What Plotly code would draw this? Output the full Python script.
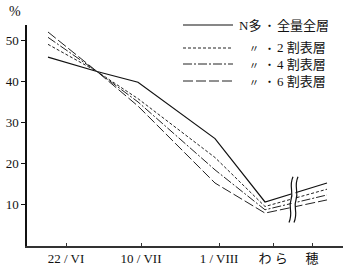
import plotly.graph_objects as go

# ---- data ----
tick_pos = [39, 114, 192, 246, 285]
tick_labels = ["22 / VI", "10 / VII", "1 / VIII", "わ ら", "穂"]
x_pts = [21, 70, 111, 188, 238, 300]
series_names = ["N多・全量全層", "〃・2 割表層", "〃・4 割表層", "〃・6 割表層"]
s_all = [45.9, 42.4, 39.8, 26.1, 10.7, 15.3]
s_2 = [49.0, 42.4, 35.8, 21.5, 9.6, 13.8]
s_4 = [50.7, 42.4, 35.0, 18.5, 8.8, 12.4]
s_6 = [52.0, 42.4, 34.0, 15.3, 8.0, 11.2]
y_ticks = [10, 20, 30, 40, 50]

series = [s_all, s_2, s_4, s_6]
dashes = ["solid", "3px,2px", "9px,2px,2px,2px", "10px,3px"]
widths = [1.2, 1.0, 1.0, 1.0]
colors = ["#111", "#222", "#222", "#222"]

fig = go.Figure()
for vals, d, w, c in zip(series, dashes, widths, colors):
    fig.add_trace(go.Scatter(x=x_pts, y=vals, mode="lines",
                             line=dict(color=c, width=w, dash=d),
                             showlegend=False, hoverinfo="skip"))

# break symbol (white gap + two wavy lines)
bx1, bx2 = 264, 269
ytop, ybot = 16.8, 5.7
fig.add_shape(type="rect", x0=bx1 + 0.5, x1=bx2 - 0.5, y0=ybot + 0.5, y1=ytop - 0.5,
              fillcolor="white", line=dict(width=0), layer="above")
for bx in (bx1, bx2):
    ym = (ytop + ybot) / 2
    path = (f"M {bx+2},{ytop} C {bx-2.5},{ytop-2.5} {bx+3},{ym+2} {bx},{ym} "
            f"C {bx-3},{ym-2} {bx+2.5},{ybot+2.5} {bx-2},{ybot}")
    fig.add_shape(type="path", path=path, line=dict(color="#111", width=1.2),
                  layer="above")

# manual legend
L, W, H = 27, 316, 221
def px(x):
    return (x - L) / W
def py(y):
    return (246 - y) / H

rows_y = [25, 48, 64, 81]
font_cjk = "Noto Sans CJK JP"
for i, (d, w, c) in enumerate(zip(dashes, widths, colors)):
    yy = py(rows_y[i])
    fig.add_shape(type="line", xref="paper", yref="paper",
                  x0=px(183), x1=px(233), y0=yy, y1=yy,
                  line=dict(color=c, width=w, dash=d))
    name = series_names[i]
    head, tail = name.split("・")
    if head == "〃":
        fig.add_annotation(xref="paper", yref="paper", x=px(254), y=yy, text="〃",
                           showarrow=False, xanchor="center", yanchor="middle",
                           font=dict(family=font_cjk, size=10, color="#111"))
    else:
        fig.add_annotation(xref="paper", yref="paper", x=px(237), y=yy, text=head,
                           showarrow=False, xanchor="left", yanchor="middle",
                           font=dict(family="Liberation Serif, " + font_cjk, size=13, color="#111"))
    fig.add_annotation(xref="paper", yref="paper", x=px(269), y=yy, text="・",
                       showarrow=False, xanchor="center", yanchor="middle",
                       font=dict(family=font_cjk, size=11, color="#111"))
    fig.add_annotation(xref="paper", yref="paper", x=px(275), y=yy, text=tail,
                       showarrow=False, xanchor="left", yanchor="middle",
                       font=dict(family="Liberation Serif, " + font_cjk, size=13, color="#111"))

fig.add_annotation(xref="paper", yref="paper", x=px(15), y=py(12), text="%",
                   showarrow=False, xanchor="center", yanchor="middle",
                   font=dict(family="Liberation Serif", size=14, color="#111"))

fig.update_layout(
    width=343, height=270,
    margin=dict(l=27, r=0, t=25, b=24),
    paper_bgcolor="white", plot_bgcolor="white",
    xaxis=dict(range=[0, 316], tickvals=tick_pos, ticktext=tick_labels,
               showgrid=False, zeroline=False, showline=True,
               linecolor="#333", linewidth=1.5, ticks="inside", ticklen=3,
               tickcolor="#333",
               tickfont=dict(family="Liberation Serif, " + font_cjk, size=13, color="#111")),
    yaxis=dict(range=[0, 53.7], tickvals=y_ticks,
               showgrid=False, zeroline=False, showline=True,
               linecolor="#111", linewidth=1.5, ticks="outside", ticklen=4,
               tickcolor="#111",
               tickfont=dict(family="Liberation Serif", size=13, color="#111")),
)

fig.write_html("out.html")
